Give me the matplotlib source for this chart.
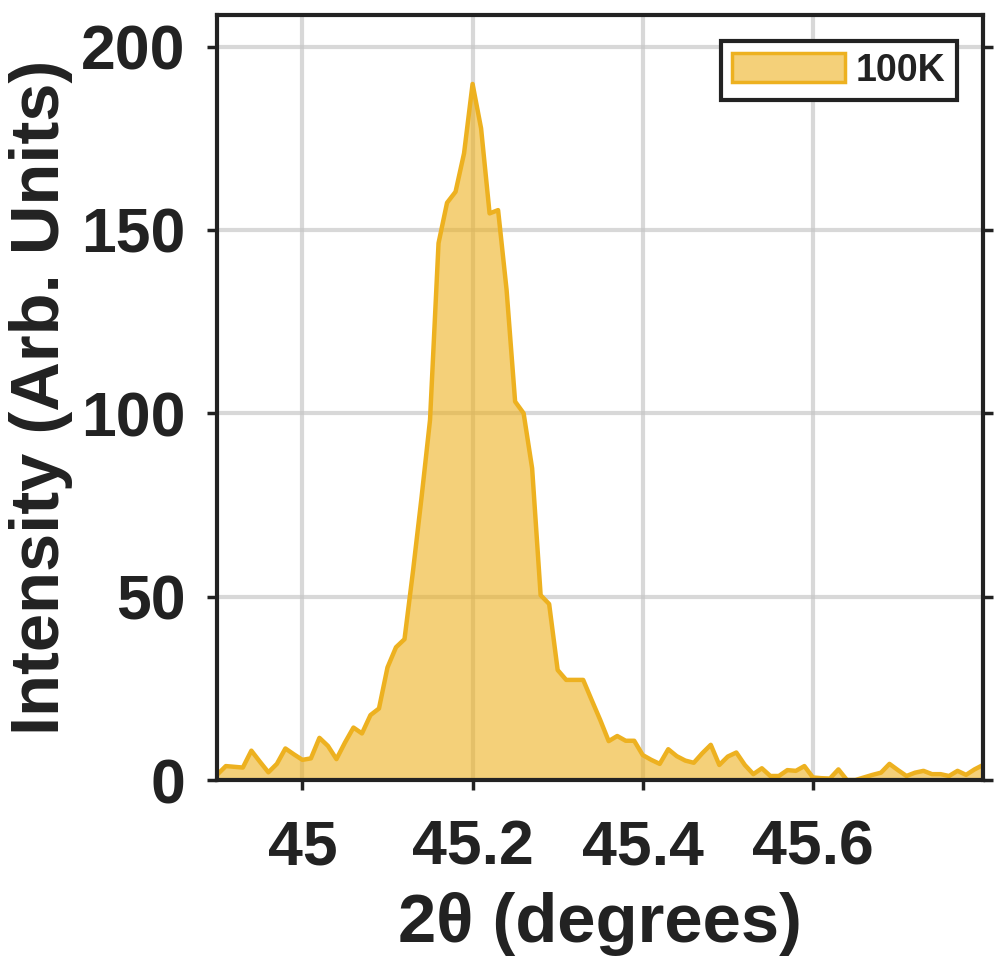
import numpy as np
import matplotlib
matplotlib.use("Agg")
import matplotlib.pyplot as plt
from matplotlib.patches import Patch

# 2theta scan, 0.01 deg steps
two_theta = np.round(np.arange(44.90, 45.805, 0.01), 2)
intensity = [
    1.5, 3.8, 3.6, 3.4, 8.0, 5.0, 2.1, 4.4, 8.6, 7.0,
    5.5, 5.9, 11.5, 9.3, 5.7, 10.2, 14.3, 12.7, 17.7, 19.5,
    30.7, 36.2, 38.4, 57.0, 77.0, 98.2, 146.4, 157.4, 160.4, 170.9,
    189.8, 177.7, 154.5, 155.4, 133.6, 103.2, 100.0, 85.0, 50.4, 48.0,
    30.0, 27.3, 27.3, 27.3, 21.8, 16.4, 10.6, 12.0, 10.7, 10.7,
    6.8, 5.5, 4.4, 8.4, 6.5, 5.3, 4.7, 7.3, 9.6, 4.1,
    6.4, 7.5, 4.1, 1.6, 3.2, 1.1, 1.1, 2.7, 2.5, 3.8,
    0.7, 0.5, 0.4, 2.9, 0.0, 0.0, 0.7, 1.4, 2.0, 4.4,
    2.7, 1.1, 2.0, 2.5, 1.6, 1.6, 1.1, 2.5, 1.4, 2.9,
    4.1,
]
label = "100K"
xticks = [45, 45.2, 45.4, 45.6]
xticklabels = ["45", "45.2", "45.4", "45.6"]
yticks = [0, 50, 100, 150, 200]

col = "#EDB120"
dark = "#222222"

plt.rcParams["font.family"] = ["Liberation Sans", "DejaVu Sans"]
plt.rcParams["font.weight"] = "bold"

fig = plt.figure(figsize=(9.96, 9.68), dpi=100)
ax = fig.add_axes([0.2182, 0.1942, 0.987 - 0.2182, 0.9845 - 0.1942])

ax.fill_between(two_theta, intensity, 0, facecolor=col, alpha=0.6, edgecolor="none")
ax.plot(two_theta, intensity, color=col, lw=3.2)
# legend proxy: filled patch with solid edge
h = Patch(facecolor=(0.929, 0.694, 0.125, 0.6), edgecolor=col, linewidth=2.5, label=label)

ax.set_xlim(44.9, 45.8)
ax.set_ylim(0, 208.6)
ax.set_xticks(xticks)
ax.set_xticklabels(xticklabels)
ax.set_yticks(yticks)

ax.grid(True, color="#c8c8c8", lw=3, alpha=0.7)
ax.set_axisbelow(True)

for s in ax.spines.values():
    s.set_linewidth(3)
    s.set_color(dark)
    s.set_zorder(5)

ax.tick_params(axis="both", direction="out", length=7, width=2.5, color=dark,
               labelsize=45, labelcolor=dark, right=True, top=False)
ax.tick_params(axis="x", pad=21)
ax.tick_params(axis="y", pad=16)

ax.set_xlabel("2θ (degrees)", fontsize=49.5, fontweight="bold", color=dark, labelpad=10)
ax.set_ylabel("Intensity (Arb. Units)", fontsize=49.5, fontweight="bold", color=dark, labelpad=6)

leg = ax.legend(handles=[h], loc="upper right", fontsize=27, fancybox=False,
                framealpha=1, edgecolor=dark, handlelength=3.0, handleheight=0.85,
                handletextpad=0.3, borderpad=0.3, borderaxespad=0.7)
leg.get_frame().set_linewidth(3)
for t in leg.get_texts():
    t.set_color(dark)

fig.savefig("out.png", dpi=100)
